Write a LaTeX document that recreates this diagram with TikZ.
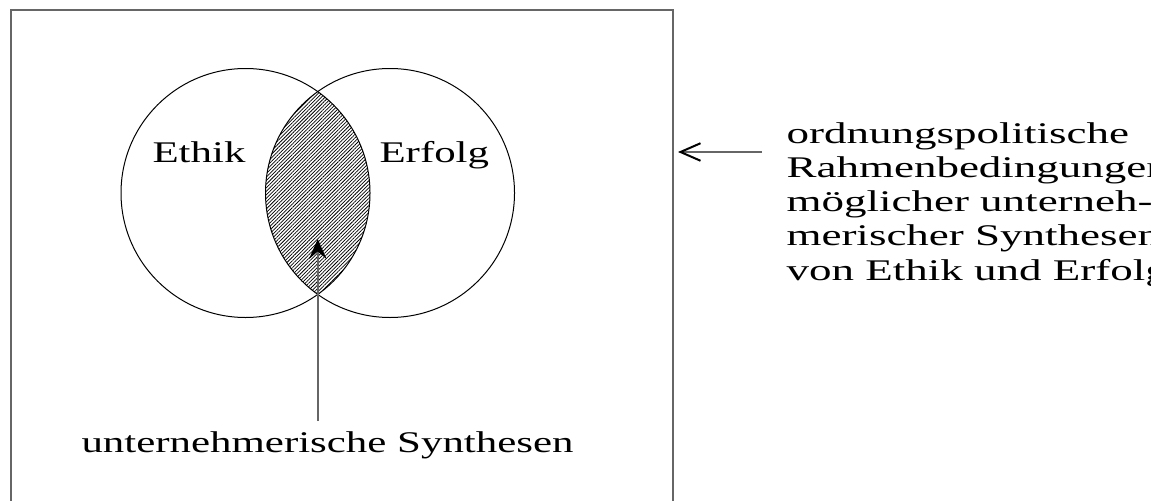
\documentclass[tikz,border=0pt]{standalone}
\usepackage{fontspec}
\setmainfont{Liberation Serif}[FakeStretch=1.43]
\newfontfamily\sidefont{Liberation Serif}[FakeStretch=1.5]
\usetikzlibrary{arrows.meta,patterns.meta}

\begin{document}
\begin{tikzpicture}[x=0.4pt,y=-0.4pt,
    frame/.style={draw=black!60,line width=0.6pt},
    ring/.style={draw=black,line width=0.4pt},
    txt/.style={inner sep=0pt,anchor=base west,font=\fontsize{12}{13.7}\selectfont}]
  \clip (0,0) rectangle (1151,500);
  \draw[frame] (11,10) rectangle (673,520);
  % the two circles and their common part
  \coordinate (ethikc) at (245.5,193);
  \coordinate (erfolgc) at (390,193);
  \begin{scope}
    \clip (ethikc) circle[radius=124.5];
    \fill[pattern={Lines[angle=45,distance=1pt,line width=0.3pt]}] (erfolgc) circle[radius=124.5];
  \end{scope}
  \draw[ring] (ethikc) circle[radius=124.5];
  \draw[ring] (erfolgc) circle[radius=124.5];
  \node[txt] (ethik) at (152,162) {Ethik};
  \node[txt] (erfolg) at (379,162) {Erfolg};
  % bottom label
  \node[txt] (synth) at (81,452) {unternehmerische Synthesen};
  \coordinate (foot) at (317.75,421);
  \coordinate (lens) at (317.75,239);
  \draw[frame,-{Stealth[length=8pt,width=7pt,inset=3pt,black]}] (foot) -- (lens);
  % text on the right (base = last line)
  \node[txt,align=left,font=\fontsize{12}{13.7}\sidefont] (rahmen) at (786,280) {ordnungspolitische\\
    Rahmenbedingungen\\
    möglicher unterneh-\\
    merischer Synthesen\\
    von Ethik und Erfolg};
  \coordinate (start) at (762,152);
  \coordinate (edge) at (678,152);
  \draw[frame,-{Straight Barb[length=8pt,width=7pt,line width=0.8pt,black]}] (start) -- (edge);
\end{tikzpicture}
\end{document}
